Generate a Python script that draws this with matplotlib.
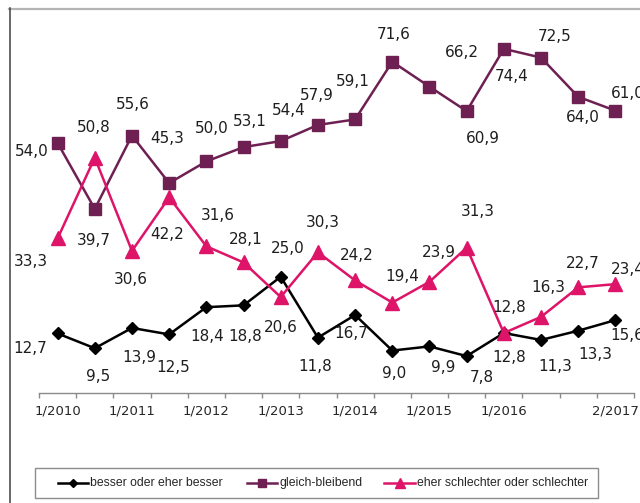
import matplotlib
matplotlib.use('Agg')
import matplotlib.pyplot as plt
from matplotlib.lines import Line2D
from matplotlib.patches import Rectangle
from matplotlib import font_manager

# ---------------- data ----------------
periods = ['1/2010', '2/2010', '1/2011', '2/2011', '1/2012', '2/2012', '1/2013', '2/2013',
           '1/2014', '2/2014', '1/2015', '2/2015', '1/2016', '2/2016', '1/2017', '2/2017']
shown_ticks = ['1/2010', '1/2011', '1/2012', '1/2013', '1/2014', '1/2015', '1/2016', '2/2017']
series_names = ['besser oder eher besser', 'gleich-bleibend', 'eher schlechter oder schlechter']
besser = [12.7, 9.5, 13.9, 12.5, 18.4, 18.8, 25.0, 11.8, 16.7, 9.0, 9.9, 7.8, 12.8, 11.3, 13.3, 15.6]
gleich = [54.0, 39.7, 55.6, 45.3, 50.0, 53.1, 54.4, 57.9, 59.1, 71.6, 66.2, 60.9, 74.4, 72.5, 64.0, 61.0]
schlechter = [33.3, 50.8, 30.6, 42.2, 31.6, 28.1, 20.6, 30.3, 24.2, 19.4, 23.9, 31.3, 12.8, 16.3, 22.7, 23.4]

# ---------------- styles / label positions (pixel offsets, +y = down) ----------------
colors = ['#000000', '#6E2052', '#DE1468']
markers = ['D', 's', '^']
msizes = [6.3, 9.0, 10.0]
off_besser = [(-27, 15), (3, 28), (7, 30), (4, 33), (1, 29), (2, 31), (7, -28), (-3, 29),
              (-4, 18), (2, 23), (14, 21), (15, 21), (5, 24), (14, 27), (17, 24), (12, 15)]
off_gleich = [(-26, 9), (-1, 32), (1, -31), (-2, -45), (5, -33), (6, -26), (8, -31), (-1, -29),
              (-2, -38), (1, -27), (32, -34), (16, 27), (8, 28), (14, -21), (5, 21), (12, -17)]
off_schl = [(-27, 23), (-1, -30), (-1, 29), (-2, 37), (11, -31), (2, -23), (0, 30), (5, -30),
            (2, -25), (10, -26), (9, -29), (11, -36), (5, -26), (7, -29), (5, -24), (12, -15)]

W, H = 640, 503
fig = plt.figure(figsize=(W / 100, H / 100), dpi=100)
fig.patch.set_facecolor('white')

ax_left, ax_right = 39, 634
ax_bottom, ax_top = 393, 23
ax = fig.add_axes([ax_left / W, 1 - ax_bottom / H, (ax_right - ax_left) / W, (ax_bottom - ax_top) / H])
ax.set_facecolor('none')

x = list(range(len(periods)))
all_series = [besser, gleich, schlechter]
all_offsets = [off_besser, off_gleich, off_schl]
for vals, offs, c, m, ms in zip(all_series, all_offsets, colors, markers, msizes):
    ax.plot(x, vals, color=c, lw=1.8, marker=m, markersize=ms, markerfacecolor=c,
            markeredgecolor=c, solid_joinstyle='miter', clip_on=False)
for vals, offs in zip(all_series, all_offsets):
    for xi, v, (dx, dy) in zip(x, vals, offs):
        ax.annotate(f'{v:.1f}'.replace('.', ','), (xi, v), xytext=(dx, -dy),
                    textcoords='offset pixels', ha='center', va='center',
                    fontsize=11, color='#1e1e1e', family='DejaVu Sans',
                    annotation_clip=False)

ax.set_xlim(-0.5, len(periods) - 0.5)
ax.set_ylim(-0.2, 80)
for s in ['left', 'right', 'top']:
    ax.spines[s].set_visible(False)
ax.spines['bottom'].set_color('#8a8a8a')
ax.spines['bottom'].set_linewidth(1.0)
ax.set_yticks([])

# major ticks at category boundaries, labels at category centres (minor)
ax.set_xticks([i - 0.5 for i in range(len(periods) + 1)])
ax.set_xticklabels([])
ax.tick_params(axis='x', which='major', direction='out', length=3.5, width=1.0, color='#8a8a8a')
lab_pos = [periods.index(t) for t in shown_ticks]
ax.set_xticks(lab_pos, minor=True)
ax.set_xticklabels(shown_ticks, minor=True)
ax.tick_params(axis='x', which='minor', length=0, pad=8.5, labelsize=9.5, labelcolor='#262626')

# outer frame (cropped box)
fig.add_artist(Line2D([9 / W, 1.0], [1 - 8.5 / H, 1 - 8.5 / H], transform=fig.transFigure,
                      color='#b4b4b4', lw=1.6))
fig.add_artist(Line2D([9.5 / W, 9.5 / W], [0, 1 - 8 / H], transform=fig.transFigure,
                      color='#404040', lw=1.1))

# legend (drawn manually to match the box layout)
fig.add_artist(Rectangle((35 / W, 1 - 497.5 / H), (598 - 35) / W, (497.5 - 468) / H,
                         transform=fig.transFigure, facecolor='white', edgecolor='#8c8c8c', lw=1.0))
names_avail = {f.name for f in font_manager.fontManager.ttflist}
if 'Liberation Sans Narrow' in names_avail:
    leg_family, leg_size = 'Liberation Sans Narrow', 10.5
else:
    leg_family, leg_size = 'Liberation Sans', 8.8
leg_handles_x = [(58, 88), (247, 277), (384, 415)]
leg_ms = [4.0, 6.0, 6.5]
ly = 1 - 483 / H
for name, c, m, ms, (hx0, hx1) in zip(series_names, colors, markers, leg_ms, leg_handles_x):
    fig.add_artist(Line2D([hx0 / W, hx1 / W], [ly, ly], transform=fig.transFigure, color=c, lw=1.8))
    fig.add_artist(Line2D([(hx0 + hx1) / 2 / W], [ly], transform=fig.transFigure, color=c,
                          marker=m, markersize=ms, markerfacecolor=c, markeredgecolor=c, lw=0))
    fig.text((hx1 + 2) / W, ly, name, ha='left', va='center', fontsize=leg_size,
             family=leg_family, color='#262626')

fig.savefig('out.png', dpi=100)
